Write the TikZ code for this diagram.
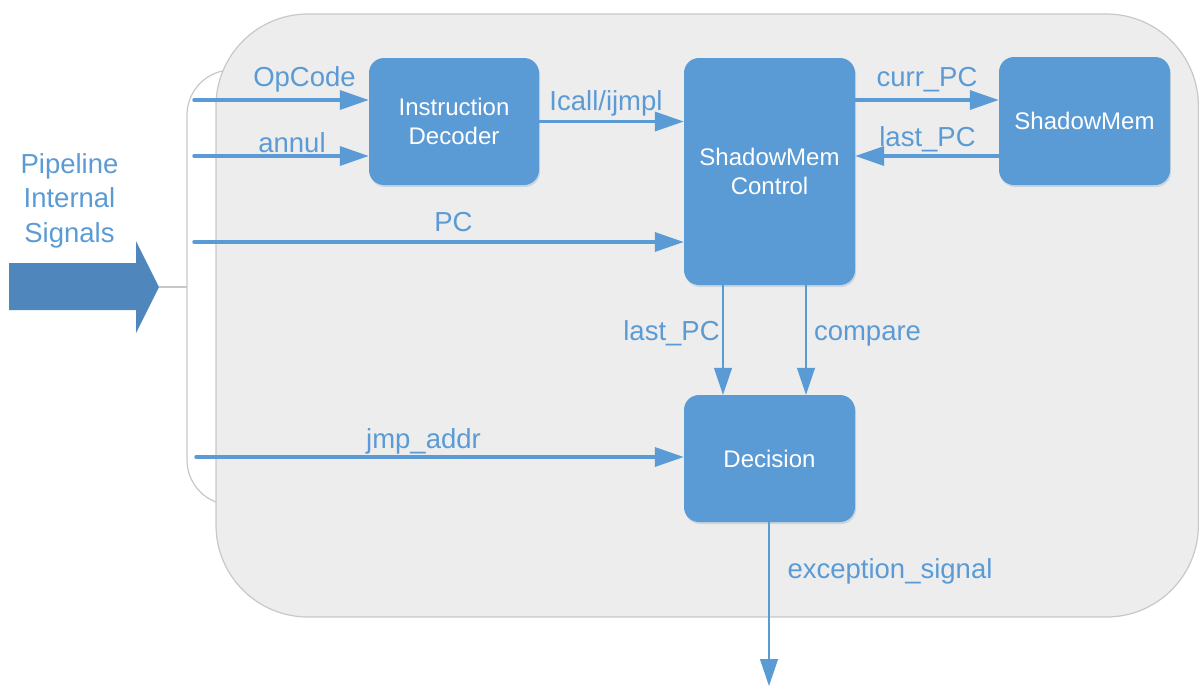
\documentclass[tikz,border=0pt]{standalone}
\usepackage{fontspec}
\setmainfont{Liberation Sans}
\usetikzlibrary{arrows.meta,shadows}
\definecolor{boxblue}{RGB}{91,155,213}
\definecolor{bigblue}{RGB}{79,134,188}
\definecolor{panel}{RGB}{237,237,237}
\definecolor{panelborder}{RGB}{200,200,200}
\tikzset{
  blk/.style={fill=boxblue, rounded corners=15pt, text=white,
    font=\fontsize{24}{28.8}\selectfont, align=center, inner sep=0pt,
    minimum width=170pt, minimum height=127pt,
    drop shadow={shadow xshift=1pt, shadow yshift=-2pt, opacity=0.25, fill=boxblue!60!gray}},
  lbl/.style={text=boxblue, font=\fontsize{27.5}{34.4}\selectfont, inner sep=0pt, anchor=base},
  thickarrow/.style={draw=boxblue, line width=3.5pt, line cap=round, -{Triangle[length=29pt,width=19pt]}},
  thinarrow/.style={draw=boxblue, line width=1.2pt, -{Triangle[length=27pt,width=18pt]}}
}
\begin{document}
\begin{tikzpicture}[x=1pt,y=-1pt]
\useasboundingbox (0,0) rectangle (1199,686);

% bracket behind the panel
\draw[panelborder, line width=1.2pt, fill=white, rounded corners=45pt] (187,70) rectangle (300,505);
% panel
\draw[panelborder, line width=1.2pt, fill=panel, rounded corners=92pt] (216,14) rectangle (1198.4,617);

% big input arrow
\fill[bigblue] (9,263) -- (136,263) -- (136,241) -- (159,287) -- (136,333) -- (136,310) -- (9,310) -- cycle;
\coordinate (bigtip) at (159,287);
\coordinate (brk) at (187,287);
\draw[panelborder, line width=1.5pt] (bigtip) -- (brk);
\node[text=boxblue, font=\fontsize{27.5}{34.4}\selectfont, align=center, inner sep=0pt] (pipe) at (69.5,200.5) {Pipeline\\Internal\\Signals};

% blocks
\node[blk] (ID) at (454,121.5) {Instruction\\Decoder};
\node[blk, minimum width=171pt, minimum height=227pt] (SMC) at (769.5,171.5) {ShadowMem\\Control};
\node[blk, minimum width=171pt, minimum height=128pt] (SM) at (1084.5,121) {ShadowMem};
\node[blk, minimum width=171pt] (Dec) at (769.5,458.5) {Decision};

% connectors
\coordinate (opS) at (194,100);
\coordinate (anS) at (194,156);
\coordinate (pcS) at (194,242);
\coordinate (jS) at (196,457);
\coordinate (dA) at (723,300);
\coordinate (dB) at (806,300);
\coordinate (excEnd) at (769,686);

\draw[thickarrow] (opS) -- (opS -| ID.west);
\draw[thickarrow] (anS) -- (anS -| ID.west);
\draw[thickarrow] (ID.east) -- (ID.east -| SMC.west);
\draw[thickarrow] (pcS) -- (pcS -| SMC.west);
\draw[thickarrow] (SMC.east |- opS) -- (SM.west |- opS);
\draw[thickarrow] (SM.west |- anS) -- (SMC.east |- anS);
\draw[thinarrow] (SMC.south -| dA) -- (Dec.north -| dA);
\draw[thinarrow] (SMC.south -| dB) -- (Dec.north -| dB);
\draw[thickarrow] (jS) -- (jS -| Dec.west);
\draw[thinarrow] (Dec.south -| excEnd) -- (excEnd);

% labels
\node[lbl] (lop) at (304.5,86) {OpCode};
\node[lbl] (lan) at (292,152) {annul};
\node[lbl] (lic) at (606,110) {Icall/ijmpl};
\node[lbl] (lpc) at (453.5,231) {PC};
\node[lbl] (lcu) at (927,86) {curr\_PC};
\node[lbl] (lla) at (927.5,146) {last\_PC};
\node[lbl] (llb) at (671.5,340) {last\_PC};
\node[lbl] (lco) at (867.5,340) {compare};
\node[lbl] (ljm) at (423.5,448) {jmp\_addr};
\node[lbl] (lex) at (890,578) {exception\_signal};
\end{tikzpicture}
\end{document}
